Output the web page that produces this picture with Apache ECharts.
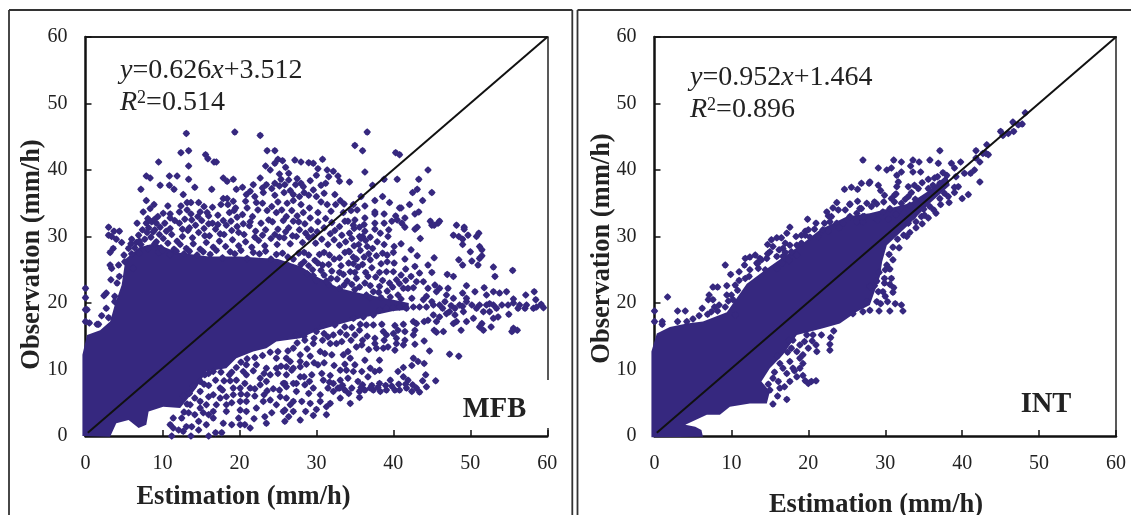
<!DOCTYPE html>
<html><head><meta charset="utf-8">
<style>html,body{margin:0;padding:0;background:#fff}#c{width:1131px;height:515px}</style>
<script src="https://cdn.jsdelivr.net/npm/echarts@6/dist/echarts.min.js"></script>
</head><body><div id="c"></div>
<script>
var axisTicks=[0,10,20,30,40,50,60];
var oneToOne=[[0.3,0.5],[60,60]];
// Saturated mass of overlapping points, outline
var mfbMass=[[-0.4,0],[3.2,-0.1],[4,1.9],[5.6,2.4],[6.9,1.2],[7.9,1.7],[8.2,3.7],[10.1,4.4],[12.3,4.2],[14.4,7.2],[15.7,9.7],[18.3,10.2],[19.6,11.7],[21.8,12.7],[23.5,13.2],[24.8,14.2],[27.9,14.7],[30,15.8],[33,16.8],[36,17.8],[40,18.8],[42,19],[42,20],[40,20.5],[36,21.4],[33,22.2],[30,24],[28,25.5],[25,26.6],[20,27],[16,27],[12,27.6],[9,29],[7,28.4],[5.2,26.6],[4.7,22.7],[3.8,19.7],[3.2,17.2],[1.9,15.9],[0.2,15.2],[-0.4,12.2]];
var intMass=[[-0.4,-0.2],[6.3,-0.1],[6.1,0.9],[5.3,1.4],[4,1.7],[6.8,3.2],[8.5,3.2],[9.8,4.4],[12.4,4.9],[14.6,4.9],[15,6.7],[13.9,8.2],[15,10.2],[16.7,12.2],[18.5,15.2],[21.9,16.2],[24.1,16.9],[26.3,18.7],[28,19.7],[29.3,24],[29.6,26.2],[30.2,28.7],[32.8,31.5],[35.8,35],[38.4,37.7],[38,39.3],[35.8,37],[33.2,35],[29.7,34],[28,33.5],[25,33],[21.5,31],[19.3,29],[15,25.5],[12,22.9],[9.4,18.6],[6.3,17.2],[4.2,16.9],[2,16.4],[0.3,15.4],[-0.4,12.7]];
var mfbPoints=[[13.1,45.5],[19.4,45.7],[22.7,45.2],[12.4,42.6],[13.4,42.9],[23.6,42.9],[24.6,42.9],[15.6,42.3],[15.9,41.7],[16.7,41.2],[17,41.2],[9.5,41.2],[13.4,40.6],[7.9,39.1],[8.4,38.8],[10.9,39.1],[11.9,39.1],[13.4,38.6],[10.9,37.7],[11.5,37.1],[9.7,37.7],[7.2,37.1],[14.2,37.4],[16.4,37.1],[17.9,38.8],[18.4,38.3],[19.2,38.6],[19.6,37.1],[20.4,37.4],[22.7,38.8],[12.7,36.3],[7.9,35.4],[8.9,34.8],[8.4,34.2],[10.7,34.6],[13.2,35.1],[13.7,35.1],[14.7,35.1],[12.4,34.6],[12.2,33.7],[14.9,33.7],[17.9,35.7],[18.4,35.7],[17.6,34.8],[20.9,36.3],[21.4,36.8],[22,36],[23.1,36.6],[7.5,33.7],[6.7,32],[3,31.4],[4.4,30.8],[3.7,30.8],[3,30.2],[3.4,30],[4,29.6],[4.7,29.1],[6.6,29.1],[5.6,28.2],[3.6,28.2],[3.2,27.6],
[23.4,40.6],[24,40],[24.6,41],[25,41.6],[25.6,41.4],[26,40.4],[26.4,39.5],[27.2,41.5],[28,41.2],[29,41.1],[25.2,39.4],[24.6,38],[25.2,37.6],[24.2,37.2],[25.8,36.6],[26.6,36.9],[27.3,37.8],[27.5,38.7],[28,38],[25.4,38.6],[29.6,41],[30.2,40.2],[30.8,41.6],[31.4,40],[32.2,39.8],[32.8,39.1],[31.6,39],[33,38.3],[30,39.2],[29.2,38.4],[28.4,36.6],[29,36.2],[30,36],[31,36.5],[30.6,35.2],[31.4,34.8],[32.4,36.3],[33.1,35.4],[33.6,34.9],[31.9,33.8],[30.2,33.6],[29.1,34.3],[28,34.8],[27,35.4],[26.2,35],[25,35.2],
[10.1,33.5],[9.4,33],[8.1,32.7],[7.9,32],[8.6,32.2],[9.2,32],[9.7,31.4],[8.2,31.3],[7.4,31],[9,31],[10.5,30.8],[12.2,32],[12.6,31.1],[13.8,32.5],[14.3,31.7],[15.1,32.4],[16,33.1],[16.5,32],[17.2,33.2],[17.9,32.4],[18.7,33.6],[19.3,33.9],[19.7,32.9],[20.4,33.3],[21,34.3],[21.7,33],[22.4,34],[23,35],[23.6,33.9],[24.2,34.5],[24.8,33.6],[25.5,34],[26.1,33],[26.8,33.9],[27.5,33.1],[28.3,33.6],[29.2,32.8],[30.2,32.2],[31.2,32.7],[32,32.1],[33,31.5],[34.1,32.3],[33.7,32.3],
[5.9,28.9],[6.9,30.2],[7.7,29.6],[8.5,29.9],[9.2,29.2],[10.1,29.7],[11.2,30.3],[11.9,29.3],[12.6,30],[13.3,30.9],[13.9,29.8],[14.7,30.6],[15.4,31.2],[16.1,30.1],[16.9,31.1],[17.5,30.4],[18.3,31.7],[19,30.9],[19.7,31.5],[20.6,30.3],[21.3,31.6],[22.1,30.8],[22.8,32],[23.4,31],[24.3,32.2],[25,31.1],[25.7,32.4],[26.4,31.3],[27,32.3],[27.8,31],[28.5,31.9],[29.3,31],[30.1,30.7],[31,31.3],[31.8,30.4],[32.4,30.9],[33.3,30.2],[34.3,30.5],[34.9,31.2],
[6.4,28.3],[7.2,28.8],[8.1,28.2],[9,28.9],[9.8,28.3],[10.7,29],[11.5,28.1],[12.3,28.8],[13.1,28.2],[14,28.9],[14.9,28.1],[15.7,29.1],[16.6,28.4],[17.4,29.3],[18.2,28.5],[19.1,29.5],[19.9,28.6],[20.8,29.2],[21.6,28.4],[22.5,29.4],[23.3,28.6],[24.1,29.7],[24.9,28.8],[25.8,29.8],[26.6,28.9],[27.4,30],[28.2,29.1],[29,29.9],[29.9,29],[30.7,29.6],[31.5,28.8],[32.3,29.5],[33,28.7],[33.8,29.2],
[5,27.2],[6,27.4],[7,27.5],[9.5,27.6],[11,27.3],[12.8,27.4],[14.5,27.2],[16.2,27.3],[17.8,26.8],[19.4,27.4],[21,26.7],[22.6,27.4],[24.1,26.6],[25.6,27.5],[27,26.6],[28.4,27.6],[29.8,26.4],[31,27.6],[32.3,26.6],[33.7,27.6],[34.8,26.9],[35.7,27.9],[36.6,28.5],[37.3,28.2],[37.8,27.1],
[26.4,25.6],[28,25.8],[29.5,25],[30.8,25.7],[32,24.8],[33.2,25.6],[34.4,24.7],[35.4,25.4],[36.4,24.6],[31,24.2],[32.7,23.6],[34,23.3],[35.2,23.7],[36.3,23],[31.6,22.8],[33,22.2],[30,23.4],[37.2,25.3],[37.7,23.9],[38.2,24.6],[28.8,24.4],
[36.6,45.7],[35,43.7],[36,42.9],[40.3,42.6],[40.8,42.3],[36.3,39.7],[44.5,40],[34.3,38.2],[40.5,38.6],[43.3,38.6],[38.8,38.6],[37.3,37.7],[43.1,37.1],[42.5,36.6],[45,36.6],[38.6,36],[35.8,36],[37.6,35.4],[39.5,35.1],[43.8,35.4],[42.1,34.8],[36.3,34.6],[34.8,34.8],[40.8,34.3],[41,34.3],[37.6,33.7],[37.6,33.4],[38.8,33.4],[42.8,33.4],[43.3,33.7],[40.3,33.1],[41.5,32.8],[36.3,32.8],[35,32.5],[39.8,32.3],[40.5,32.5],[41.1,32],[38.8,32],[37.6,32],[44.8,32.3],[45,31.7],[46,32.3],[45.8,32],[45.3,31.7],[34.8,31.7],[35.6,31.4],[41.5,31.4],[43.1,31.4],[42.8,31.1],[48.2,31.7],[49.2,31.4],[49.2,31.1],[36.3,30.8],[37.6,31.1],[38.3,30.5],[51.1,30.5],[50.8,30],[47.8,30.2],[49.7,30.2],[48.5,30],[49,29.6],[49,28.8],[39.3,30],[43.5,29.7],[35.6,30],[36,30],[35.8,29.7],[40.1,28.5],[51.2,28.5],[51.5,28],[50,27.7],[51.5,27.1],[41.5,26.6],[43.1,27.1],[45.3,26.8],[48.5,26.5],[51.2,26.7],[49,25.7],[50.2,26.3],[51,25.7],[53,25.4],[55.5,24.9],[53.2,24],[44.5,25.7],[45,24.6],[47,24.3],[47.8,24],
[25.9,2.2],[27.9,2.4],[31.3,3.2],[30,4],[31.3,4.4],[31.8,4.9],[34.4,4.9],[35.6,5.8],[27,3.7],[26.6,4.7],[25.9,3.9],[28.1,5.2],[29.2,4.9],[30.5,5.2],[30.5,6.2],[29,6.4],[29.6,7.2],[27.4,6.7],[26.1,7.4],[28.5,7.7],[27.4,7.9],[25.9,7.9],[26.8,9.9],[27.9,10.4],[29.4,9.2],[30.2,10.7],[30.7,9.4],[30.9,8.4],[31.5,7.2],[32.2,6.7],[33.1,5.7],[32.8,7.2],[33.7,6.9],[34.6,7.2],[35.6,6.7],[36.3,6.9],[37.4,6.9],[38.3,6.7],[39.1,6.9],[40.2,6.9],[40.8,6.9],[41.7,7.2],[42.4,6.7],[43,7.2],[43.4,6.6],[44.3,7.4],[43.8,8.3],[45.5,8.3],[44.2,9.2],[41.9,8.4],[41.3,8.9],[40.6,9.7],[39.6,8.4],[38.2,7.9],[38.2,9.9],[37.6,9.7],[37,10.2],[36.7,8.9],[35.9,9.7],[34.8,9.7],[33.9,9.9],[33.1,9.9],[34.1,8.7],[33.1,8.4],[32.2,7.9],[35.4,8.2],[36.3,11.4],[38.2,11.4],[41.3,10.3],[42.4,10.6],[42.6,11.7],[43.2,11.2],[44,10.9],[47.3,12.3],[48.5,12],[44.7,12.8],[42.8,13.8],[44,14.3],[37.2,7.6],[39,7.6],[36,7.7],[34.2,6.4],[33.4,7.6],
[37.6,14.7],[37.6,13.9],[37.8,13.2],[38.7,13.2],[39.3,13.4],[40.2,12.9],[40.4,13.9],[41.3,13.7],[41.5,14.4],[40.4,14.7],[39.1,15.2],[38.7,15.7],[40,15.4],[40.6,15.9],[41.5,15.7],[40.2,16.6],[41.3,16.8],[42.6,17.2],[43,16.9],[42.8,15.9],[42.6,15.2],[38.5,16.8],[37.4,16.7],[36.5,16.7],[35.6,15.9],[35,15.2],[35.9,13.7],[35.2,13.4],[34.1,12.7],[33.5,12.2],[34.4,11.7],[32.6,13.9],[33.3,14.2],[31.5,14.9],[31.8,13.9],[30.5,12.7],[31.1,12.4],[32,12.2],[29.6,13.9],[27.9,12.2],[26.1,11.7],[27,13.2],[28.5,14.4],[27.4,15.2],[30,15.7],[30.9,16.7],[32.4,16.7],[33.7,16.4],[34.8,17.7],[36.1,17.9],[37.4,18.2],[28.8,13.1],[29.2,12],[30.8,14.4],[33.9,15.2],[34.5,14.4],[36.6,15],
[38.2,18.9],[39.1,19.2],[40,19.3],[40.8,19.4],[41.7,19.2],[42.6,19.4],[43.4,19.4],[44.3,19.4],[45.2,19.7],[46,19.7],[46.7,20.2],[47.3,18.7],[48.6,19.7],[49.5,20.2],[50.2,19.7],[51.2,19.7],[52.1,19.7],[53,19.7],[53.4,19.2],[54.1,19.7],[54.9,19.7],[55.6,20],[56.4,19.7],[56.2,19.2],[57.1,19.2],[57.3,19.7],[58.2,19.2],[58.6,19.4],[59.2,19.8],[59.5,19.3],[58.5,20.5],[57.2,21.2],[58.3,21.7],[55.6,20.6],[54.7,21.7],[53.8,21.5],[53,21.7],[52.1,21.2],[51.8,22.3],[50.6,21.7],[49.5,22.6],[49,21.5],[49.5,20.7],[47.8,20.7],[46.9,21.2],[47.1,22.2],[46,22.2],[45.4,22.7],[44.5,22.2],[43.9,23.2],[43,23.2],[42.3,24],[45.6,21.7],[44.3,21],[43.9,20.5],[42.4,20.7],[41.3,22.2],[41.9,22.2],[40.6,21.2],[40,24.7],[40.4,23.5],[39.1,24.7],[39.5,23],[38.2,22.5],[37.4,21.7],[36.5,21.2],[35,22],[47.5,19.6],[48,19.2],[49,19.5],[50.8,19.2],[52.5,19.9],[46.4,19.2],[45,20.2],
[45.2,18.2],[46,17.9],[45.6,17.2],[44.5,17.4],[44,17.2],[45.3,15.9],[45.6,15.6],[46.5,15.7],[47.8,16.9],[48.2,17.2],[48,18.2],[46.9,18.4],[49.1,18.7],[49.5,17.2],[50.4,17.7],[51.5,16.9],[51.2,16.4],[51.7,15.9],[48.8,15.9],[52.7,16.4],[53,17.7],[53.6,17.9],[52.5,18.7],[51.7,18.7],[55.6,16.2],[56.1,15.9],[55.4,15.7],[55,18.3],
[11.2,0],[13.7,0],[16,0],[16.9,0.5],[17.7,0.5],[14.7,0.9],[13.1,1.4],[13.8,1.4],[15.7,1.7],[11.4,1.2],[12.1,0.9],[12.7,0.7],[11,1.7],[11.4,2.7],[12.5,2.7],[14.7,2.2],[14.2,3.2],[16,3.2],[16.6,2.7],[17.9,1.9],[19,1.7],[20.1,1.7],[20.7,1.7],[21.4,1.2],[23.5,1.9],[23.3,2.9],[18.3,3.7],[16.6,3.7],[15.7,4.7],[14.9,5.2],[13.6,4.7],[14.9,4.2],[17,4.7],[18.3,4.7],[20.1,3.9],[20.9,3.7],[22.2,4.2],[23.1,5.2],[24,5.4],[24.8,4.7],[25.7,3.7],[27,5.2],[26.1,5.7],[25.3,5.9],[19.2,6.2],[20.1,5.2],[20.9,5.2],[20.1,7.2],[19.2,7.2],[21.4,7.2],[22.7,7.7],[23.5,8.2],[22.7,8.7],[20.9,9.2],[24,9.2],[25.7,7.9],[27,7.9],[26.1,9.2],[24.8,10.2],[27,10.2],[27.9,8.9],[23.5,10.2],[22.2,10.7],[20.9,10.7],[20.5,9.7],[24.8,11.7],[26.6,11.2],[27.9,11.2],[17.5,7.2],[16.6,6.2],[18.3,5.9],[14.9,6.7],[16,9.4],[19.6,8.4],[20.7,7.9],[18,8.3],[16.9,8.4],[15.4,7.8],[19,9.6],[22,6],[23.6,6.8],
[0,20.8],[0,19],[0.2,19],[0,17.2],[0.5,17],[1.5,16.8],[1.7,16.8],[2.7,21.5],[2.4,21.1],[2.7,19.2],[3.8,21],[3.8,20.2],[3.3,23.5],[3,17.8],[3.4,25.2],[4.3,25.7],[5.1,26.2],[3.2,25.7],[6.2,25.2]];
var mfbDense=[[8,30.6],[8.8,30.7],[9.6,30.3],[10.3,32],[9,32.6],[7,29.3],[6,29.6],[11,31.2],[11.6,32.4],[12.9,32.6],[13.5,31.3],[14.6,33],[15.5,30.1],[16,31.9],[17.2,31.8],[18,30.3],[18.9,32.3],[19.9,30.6],[20.5,31.9],[21.4,32.2],[22,29.9],[23,30.2],[23.8,32.5],[24.6,30.3],[25.2,29.9],[26,30.7],[26.9,30.1],[27.7,32.2],[28.6,30.5],[29.6,30],[10,27.9],[11.8,27.8],[13.5,27.8],[15.3,27.7],[17,27.9],[18.8,27.7],[20.2,27.9],[21.8,27.6],[23.4,27.8],[24.8,27.3],[26.3,26.9],[27.7,27.5],[29,27.2],[30.4,27.3],[31.7,27.2],[33,26.8],[34.2,27.8],[35.2,26.6],[36.2,26.9],[28.4,26.2],[30.2,26],[31.6,25.8],[33,24.6],[34.8,25.9],[36,25.8],[37,26.5],[38.4,25.9],[39.2,26.2],[40.1,26],[29,25.6],[30.6,24.9],[31.9,23.7],[33.5,24.3],[35,24.6],[36.7,24],[38.6,23.4],[29.6,24.1],[31.3,23.3],[33.6,22.7],[34.6,22.8],[35.6,22.4],[37,22.6],[38.1,21.6],[39.2,21.8],[39.9,22.4],[40.8,22.9],[41.6,23.4],[42.6,22.3],[37,20.8],[38.4,20.8],[39.6,20.9],[41,20.6],[32.5,34.8],[33.5,33.6],[34.5,33.9],[35.3,34],[34.6,29.7],[34.9,28.6],[35.5,28.8],[36.4,29.4],[37,29.9],[38.8,28.8],[37.9,29.2],[34.3,27.7],[36.8,27.4],[38.6,27.5],[39.2,27.2],[40,27.6],[42.3,28],[41,28.9],[42.8,25.5],[41.6,25.1],[41,24.2],[43.4,24.5],[36.2,31.8],[39.4,31],[34.2,26],[25.9,37.8],[26.4,38.5],[27,36.3],[27.8,36],[28.3,37.5],[29.6,37],[30.6,37.7],[31.2,38],[24.6,36.2],[23.5,37.8],[23,37.3],[21.8,37.8],[22.2,35.1],[20.8,35.3],[19.2,35.3],[19.5,34.3],[18.5,34.8],[16.5,34.4],[15.4,34.5],[15.8,33.6],[13.7,33.4],[13.2,34],[11,33.4],[11,32.8],
[13.2,4.8],[12.7,6],[13.5,6.4],[14,7.5],[14.9,8.2],[15.5,9.2],[16.6,9.7],[17.6,9.6],[18.7,9.2],[19.6,10.3],[20.2,11.1],[21,11.6],[22,11.8],[23,12.1],[24,12.6],[25,12.7],[26.3,12.8],[27.5,14],[28.4,15],[29.7,14.7],[31,15.4],[32.2,15.2],[33.1,15.6],[34.6,16.3],[35.7,16.8],[36,14.4],[36.8,13],[38.8,14.4],[28.7,10.8],[29.7,11],[31,11],[32.3,10.6],[33.7,10.8],[35,10.7],[28.4,8.9],[29.1,8.2],[31.8,9.1],[31.7,8.1],[33,7.2],[35.8,7.3],[37,7.2],[38,7.3],[39.8,7.5],[40.7,7.8],[41.6,7.8],[42.5,7.7],[18.8,8.3],[17.8,6.9],[20.2,6.3],[21,6.2],[22,7.1],[23.2,6.2],[24.4,7.1],[25.2,6.9],[25,9.4],[25.4,10.5],[26.1,10.4],[23.2,9.4],[21.8,9.8],[19,5],[16,5.9],[16,7.6],[14.2,5.7],[12.8,3.6],[13.4,3.5],[15.3,3.5],[17.5,5.7],[26.4,2.9],[28.6,3.7],[29.6,3.1],[24.2,3.5],[21.9,2.6],[19.9,2.7],
[0,22.2],[2.1,18.1],[4.4,24],[4.1,23]];
var intPoints=[[27.1,41.5],[24.7,37.1],[25.6,37.4],[26.4,37.1],[26.9,38],[27.9,38],[23.7,35.1],[25.4,34.8],[22.4,33.7],[23.2,34.3],[23.9,34],[22.6,33.1],[19.9,32.6],[17.6,31.4],[17.2,30.5],[19.6,30.8],[19.6,30.2],[20.2,29.9],[15.2,29.5],[15.9,29.8],[16.5,29.8],[14.7,28.8],[15.4,28.5],[16.7,28.2],[15,27.7],[17.6,28.7],[18.5,28.7],[19.1,29],[17.8,27.7],[18.5,27.2],[13.1,27.2],[12.4,26.9],[11.8,26.7],[15.9,27],[16.7,27],[14.6,26.7],[13.7,26.7],[22.1,32],[22.8,32.2],[23.7,32],[24.5,32],[25.4,33],[26.3,33.5],[26.9,34.2],[27.3,33],[26.3,32.2],[27.1,32.2],[21.9,31],[21.3,30],[20.8,31.1],[22.6,30.8],[24,31.3],
[9.2,25.7],[9.9,24.3],[12.4,25],[11.8,23.7],[10.5,22.7],[9.4,22.6],[7.6,22.4],[8.2,22.4],[7.1,21.2],[7,20.5],[7.6,20.5],[7.8,19.4],[7.4,18.7],[9.4,21.2],[10,21.2],[10.2,20.5],[9.2,19.4],[10.5,18.2],[1.7,20.9],[3,18.8],[4,18.8],[6.2,19.2],[0,18.8],[0,17.2],[1,17.2],[1,16.8],[4.2,17.2],[13.9,26.5],[13.3,26],[13.5,25.2],[14.4,25],[15.9,25.2],[16.6,26],[17.5,26.4],[11,24.7],
[15.4,4.8],[17.2,5.5],[20.4,8.2],[21,8.3],[20,7.9],[19.3,9.1],[18.5,8.9],[17.6,8.2],[16.3,7.2],[17.2,9.4],[16.1,8.2],[15.4,8.7],[15,6.9],[18,10.2],[19.3,10.9],[18.9,11.7],[17.6,11.2],[16.3,10.9],[16.7,10.2],[19.3,12.2],[18.5,12.7],[17.8,13.2],[18.9,13.7],[18,14.4],[21.1,12.7],[21,13.7],[22.8,12.9],[22.8,13.8],[22.9,14.8],[21.7,15.2],[20.6,15.2],[19.8,15.2],
[48.2,48.6],[46.6,47.2],[47.8,46.9],[47.3,46.8],[46.7,45.8],[46,45.5],[45.3,45.2],[45,45.8],[43.2,43.8],[41.8,42.9],[43.1,42.5],[42.7,42.5],[43.4,42.3],[41.8,41.8],[42.3,41.2],[41.6,40],[41.1,39.5],[42.3,38.2],[37.1,42.9],[35.8,41.5],[34.4,41.2],[33.6,41.5],[33.3,40.6],[32.1,41.2],[31.1,41.5],[30.8,40.3],[29.1,40.3],[30.2,40],[31.5,39.2],[32.1,39.7],[33.6,39.7],[34.6,39.7],[36.9,41],[38.6,41],[39.8,41.2],[39,40.3],[40.3,39.5],[39.2,39],[36.4,38.8],[31.7,38.2],[31.5,37.5],[28,38.2],[29.1,37.7],[29.4,36.9],[29.9,36.2],[31.2,36.2],[33,37.5],[33.4,36.6],[33.8,37.7],[34.3,37.2],[34.8,38.1],[35.6,37.2],[36.2,37.7],[37.1,38],[38,39.2],[39,36.6],[39.5,37.5],[40.8,36.3],[40,35.7],[38.3,35.1],[37.7,36.5],[36.6,33.5],[32.8,30],[31.8,28.3],[31.2,35.2],[28.6,35.2],[28.2,34.5],[26.7,34.2],[25.4,34.9],[27.1,33],[34,32.2],[34.7,33],[32.1,35],[33.2,34.7],[34.7,35.5],[35.8,34.5],[37.1,35.7],[35.1,33.2],[30.6,34.2],[29.7,33.7],[28.4,33],[29,32.5],[30.4,32.6],[31.4,33.3],[32.4,33.6],
[30.2,25.7],[29.9,23.7],[30.8,23.7],[29.9,23],[30.6,22.8],[31.1,22.3],[32.1,19.7],[32.3,18.8],[30.6,18.8],[29.2,18.8],[30.3,20.2],[28.9,20.2],[28,18.9],[27.1,18.7],[29.7,21.7],[28.6,22.6],[28,22.5],[25.8,18.4],[29.1,21.7]];
var intDense=[[31,28.4],[31.6,29.6],[32.4,30.2],[33.2,30.6],[34,31.3],[34.8,31.9],[35.6,32.8],[36.3,34],[37.2,34.8],[38.2,36],[39,37.4],[37.5,39.6],[36.8,39],[35.6,38.6],[33,36],[33.9,35.6],[32.6,35.6],[31.4,36.4],[30.8,35.7],[29.8,35.2],[28.9,34.9],[27.6,35],[26.4,35.3],[24.8,34],[23,33],[21,32],[20,31],[18.4,30],[17,29],[16.2,28],[14.7,27.4],[13.4,25.9],[12.3,24],[11,23.4],[10.8,21.9],[9.6,20.3],[8.4,19.7],[8.2,18.8],[6.9,18.3],[5.8,18.1],[5,17.6],[3,17.2],[11.7,25.7],[17,27.6],[19.1,30.2],
[17.3,12.6],[19.5,14.2],[20.5,14.3],[23.3,15.8],[20,13.2],[17.5,14.4],[16,12],[15.6,9.6],[14.8,7.8],[16.9,7.4],[18.2,9.8],[18.9,10.2],[19.6,8.3],[16,6],[28.9,23.3],[29.2,24.6],[30,25],[30.6,25.1],[31,26.5],[30.5,27.3],[31,21.6],[30,21],[29.4,19.9],[31.3,19.9],[27.6,20.2],[33,32],[33.6,33],[35,34.1]];

function polygonItem(outline){
  return function(params,api){
    if(params.dataIndex!==0) return null;
    return {type:'polygon',shape:{points:outline.map(function(p){return api.coord(p);})},style:{fill:COL}};
  };
}
var COL='#36287f', INK='#222', FONT='"Liberation Serif","Times New Roman",serif';
var MARK='path://M50 0 L78 22 L100 50 L78 78 L50 100 L22 78 L0 50 L22 22 Z';
var W=1131,H=515;
var panels=[{x0:85.5,x1:547.3,mass:mfbMass,pts:mfbPoints.concat(mfbDense)},{x0:654.5,x1:1116,mass:intMass,pts:intPoints.concat(intDense)}];
var grids=[],xAxes=[],yAxes=[],series=[];
panels.forEach(function(p,i){
  grids.push({left:p.x0,right:W-p.x1,top:37,bottom:H-436,containLabel:false});
  var lab={fontFamily:FONT,fontSize:20,color:INK};
  var main={type:'value',gridIndex:i,min:axisTicks[0],max:axisTicks[axisTicks.length-1],interval:10,splitLine:{show:false},
    axisTick:{show:true,inside:true,length:6,lineStyle:{color:'#111',width:1.5}},axisLine:{show:true,onZero:false,lineStyle:{color:'#111',width:2.5}}};
  var side=function(pos,w){return {type:'value',gridIndex:i,position:pos,min:0,max:60,interval:10,splitLine:{show:false},axisTick:{show:false},axisLabel:{show:false},axisLine:{show:true,onZero:false,lineStyle:{color:'#222',width:w}}};};
  var xi=xAxes.length,yi=yAxes.length;
  xAxes.push(Object.assign({position:'bottom',axisLabel:Object.assign({margin:18},lab)},main),side('top',2.2));
  yAxes.push(Object.assign({position:'left',axisLabel:Object.assign({margin:18,padding:[6,0,0,0]},lab)},main),side('right',1.5));
  series.push({type:'custom',xAxisIndex:xi,yAxisIndex:yi,clip:false,z:3,silent:true,renderItem:polygonItem(p.mass),encode:{x:0,y:1},data:p.mass});
  series.push({type:'scatter',xAxisIndex:xi,yAxisIndex:yi,clip:false,z:4,symbol:MARK,symbolSize:7.5,itemStyle:{color:COL,opacity:1},silent:true,data:p.pts,large:false});
  series.push({type:'line',xAxisIndex:xi,yAxisIndex:yi,z:6,symbol:'none',silent:true,lineStyle:{color:'#111',width:2},data:oneToOne});
});
function txt(x,y,text,size,bold,rot,extra){
  return {type:'text',x:x,y:y,rotation:rot||0,z:20,style:Object.assign({text:text,fontFamily:FONT,fontSize:size,fontWeight:bold?'bold':'normal',fill:INK,align:'center',verticalAlign:'middle'},extra||{})};
}
function rt(base){return {i:{fontFamily:FONT,fontStyle:'italic',fontSize:base,fill:INK},n:{fontFamily:FONT,fontSize:base,fill:INK},s:{fontFamily:FONT,fontSize:18,fill:INK,verticalAlign:'top',lineHeight:28}};}
function eq(x,y,text){return txt(x,y,text,28,false,0,{align:'left',rich:rt(28)});}
function fr(x1,y1,x2,y2){return {type:'line',z:19,shape:{x1:x1,y1:y1,x2:x2,y2:y2},style:{stroke:'#333',lineWidth:1.8}};}
var graphic=[
  fr(9,10,572.3,10),fr(9,10,9,515),fr(572.3,10,572.3,515),fr(577.5,10,1131,10),fr(577.5,10,577.5,515),
  {type:'rect',z:10,shape:{x:462,y:380,width:87,height:48},style:{fill:'#fff'}},
  txt(243.5,497.5,'Estimation (mm/h)',26.5,true),
  txt(876,505,'Estimation (mm/h)',26.5,true),
  txt(32,254.5,'Observation (mm/h)',26.5,true,Math.PI/2),
  txt(602,248.5,'Observation (mm/h)',26.5,true,Math.PI/2),
  eq(120,71,'{i|y}{n|=0.626}{i|x}{n|+3.512}'),
  eq(120,103,'{i|R}{s|2}{n|=0.514}'),
  eq(690,78,'{i|y}{n|=0.952}{i|x}{n|+1.464}'),
  eq(690,110,'{i|R}{s|2}{n|=0.896}'),
  txt(494.5,409.5,'MFB',28.5,true),
  txt(1046,404.5,'INT',28.5,true)
];
var chart=echarts.init(document.getElementById('c'),null,{renderer:'canvas'});
chart.setOption({animation:false,backgroundColor:'#fff',grid:grids,xAxis:xAxes,yAxis:yAxes,series:series,graphic:graphic});
</script></body></html>
